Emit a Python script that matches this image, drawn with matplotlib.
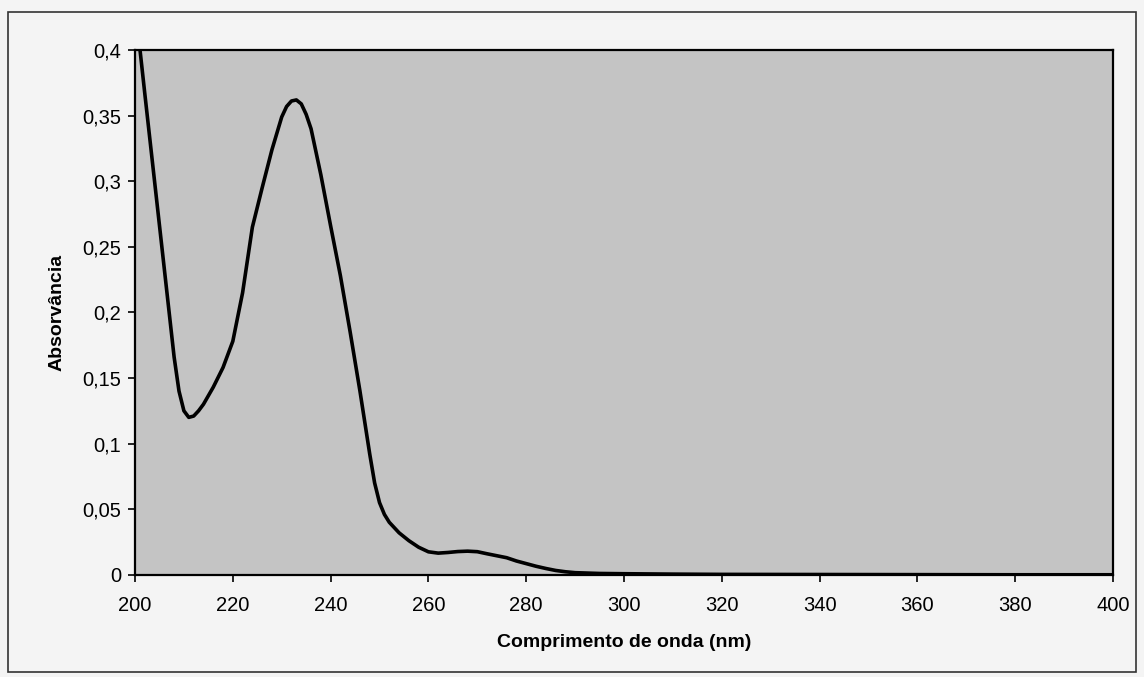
import matplotlib
matplotlib.use("Agg")
import matplotlib.pyplot as plt
from matplotlib.patches import Rectangle
from matplotlib.ticker import FuncFormatter

# absorption spectrum
wavelength = [200, 202, 204, 206, 208, 209, 210, 211, 212, 213, 214, 216,
              218, 220, 222, 224, 226, 228, 230, 231, 232, 233, 234, 235,
              236, 238, 240, 242, 244, 246, 248, 249, 250, 251, 252, 254,
              256, 258, 260, 262, 264, 266, 268, 270, 272, 274, 276, 278,
              280, 282, 284, 286, 288, 290, 295, 300, 310, 320, 340, 360,
              380, 400]
absorbance = [0.435, 0.367, 0.300, 0.233, 0.166, 0.140, 0.125, 0.120, 0.121,
              0.125, 0.130, 0.143, 0.158, 0.178, 0.215, 0.265, 0.295, 0.324,
              0.349, 0.357, 0.3612, 0.362, 0.359, 0.351, 0.340, 0.305, 0.266,
              0.228, 0.185, 0.140, 0.092, 0.070, 0.055, 0.046, 0.040, 0.032,
              0.026, 0.021, 0.0175, 0.0165, 0.017, 0.0177, 0.018, 0.0176,
              0.016, 0.0145, 0.013, 0.0105, 0.0085, 0.0065, 0.0048, 0.0033,
              0.0023, 0.0016, 0.001, 0.0008, 0.0005, 0.0003, 0.0002, 0.0001,
              0.0, 0.0]

x_ticks = list(range(200, 401, 20))
y_ticks = [0, 0.05, 0.1, 0.15, 0.2, 0.25, 0.3, 0.35, 0.4]

plt.rcParams["font.family"] = ["Liberation Sans", "DejaVu Sans"]

fig = plt.figure(figsize=(11.44, 6.77), dpi=100, facecolor="#f4f4f4")
ax = fig.add_axes([0.118, 0.151, 0.855, 0.775])
ax.set_facecolor("#c4c4c4")

ax.plot(wavelength, absorbance, color="black", linewidth=2.6,
        solid_joinstyle="round", solid_capstyle="round")

ax.set_xlim(200, 400)
ax.set_ylim(0, 0.4)
ax.set_xticks(x_ticks)
ax.set_yticks(y_ticks)
ax.yaxis.set_major_formatter(FuncFormatter(lambda v, p: f"{v:g}".replace(".", ",")))

ax.tick_params(direction="out", length=5, width=1.2, labelsize=14.5,
               colors="black")
ax.tick_params(axis="x", pad=10)
ax.tick_params(axis="y", pad=5)
for side in ["top", "right", "left", "bottom"]:
    ax.spines[side].set_linewidth(1.6)
    ax.spines[side].set_color("black")

ax.set_xlabel("Comprimento de onda (nm)", fontsize=14, fontweight="bold",
              labelpad=14)
ax.set_ylabel("Absorvância", fontsize=14, fontweight="bold", labelpad=12)

# outer frame of the chart
fig.patches.append(Rectangle((8 / 1144, 5 / 677), 1128 / 1144, 660 / 677,
                             transform=fig.transFigure, fill=False,
                             edgecolor="#333333", linewidth=1.2))

fig.savefig("out.png", dpi=100, facecolor=fig.get_facecolor())
